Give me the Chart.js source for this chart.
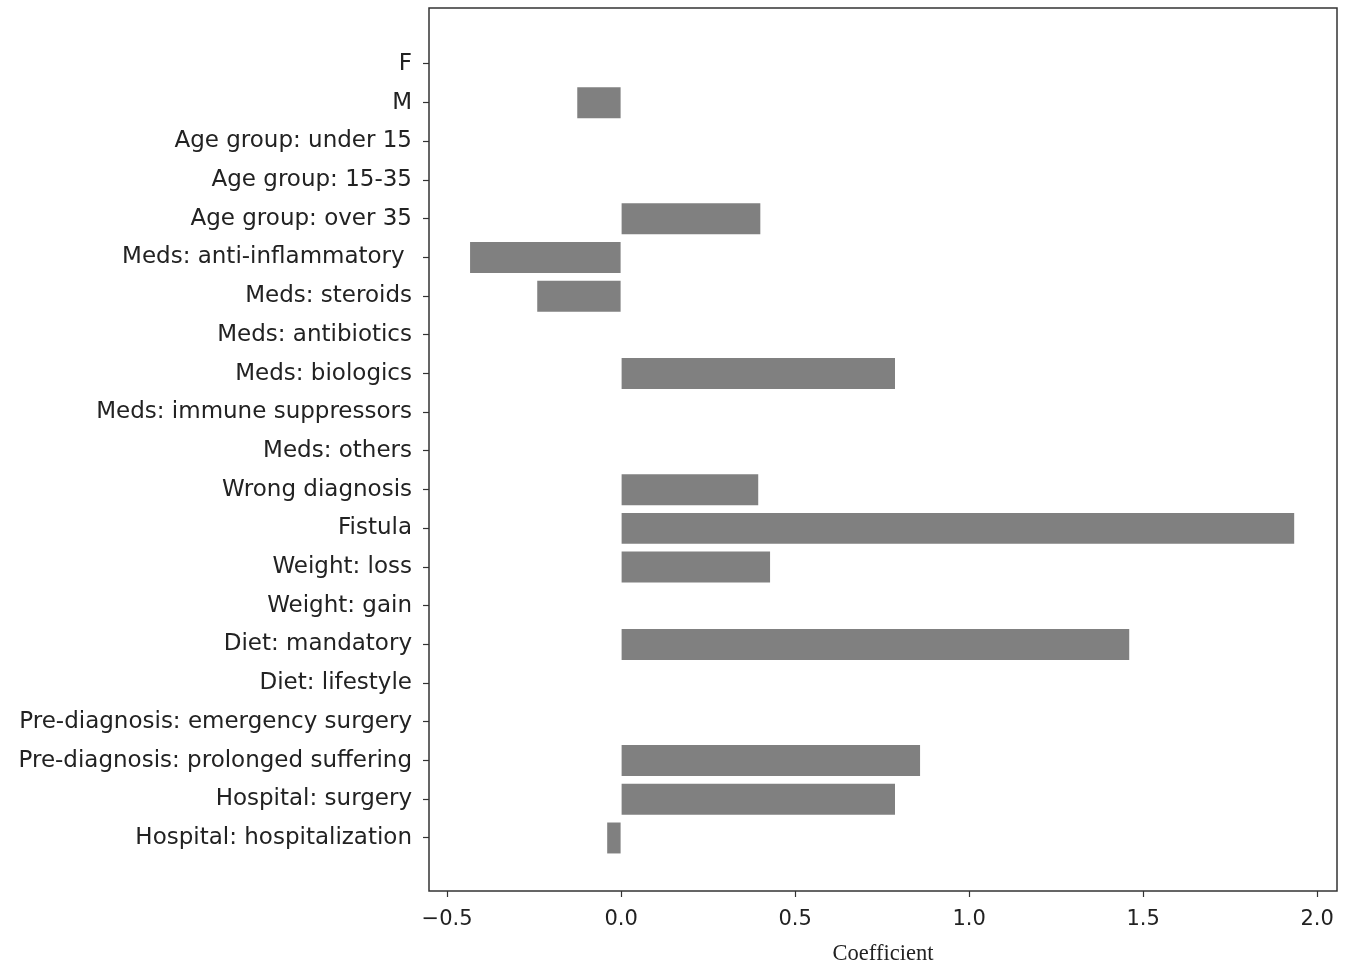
<!DOCTYPE html>
<html>
<head>
<meta charset="utf-8">
<script src="https://cdn.jsdelivr.net/npm/chart.js@4"></script>
<style>
  html, body { margin: 0; padding: 0; background: #fff; }
  #wrap { width: 1358px; height: 963px; }
</style>
</head>
<body>
<div id="wrap"><canvas id="myChart" width="1358" height="963"></canvas></div>
<script>
const labels = [
    'F', 'M', 'Age group: under 15', 'Age group: 15-35', 'Age group: over 35',
    'Meds: anti-inflammatory ', 'Meds: steroids', 'Meds: antibiotics', 'Meds: biologics',
    'Meds: immune suppressors', 'Meds: others', 'Wrong diagnosis', 'Fistula',
    'Weight: loss', 'Weight: gain', 'Diet: mandatory', 'Diet: lifestyle',
    'Pre-diagnosis: emergency surgery', 'Pre-diagnosis: prolonged suffering',
    'Hospital: surgery', 'Hospital: hospitalization'
];
const coefficients = [
    0, -0.126, 0, 0, 0.40,
    -0.434, -0.241, 0, 0.787,
    0, 0, 0.394, 1.934,
    0.428, 0, 1.460, 0,
    0, 0.859,
    0.787, -0.040
];
const xTicks = [-0.5, 0.0, 0.5, 1.0, 1.5, 2.0];

Chart.defaults.font.family = 'DejaVu Sans';
Chart.defaults.color = '#222';

// matplotlib-style box round the plot
const frame = {
    id: 'frame',
    afterDraw(chart) {
        const a = chart.chartArea, c = chart.ctx;
        c.save();
        c.strokeStyle = '#333';
        c.lineWidth = 1.5;
        c.strokeRect(a.left, a.top, a.right - a.left, a.bottom - a.top);
        c.restore();
    }
};

const ctx = document.getElementById('myChart');
new Chart(ctx, {
    type: 'bar',
    data: {
        datasets: [{
            data: coefficients.map((v, i) => ({ x: v, y: i })),
            backgroundColor: '#808080',
            borderWidth: 0,
            categoryPercentage: 0.8,
            barPercentage: 1.0
        }]
    },
    options: {
        indexAxis: 'y',
        responsive: false,
        animation: false,
        layout: { padding: { top: 8, right: 21, left: 0, bottom: 0 } },
        plugins: { legend: { display: false }, tooltip: { enabled: false } },
        scales: {
            x: {
                type: 'linear',
                offset: false,
                min: -0.552,
                max: 2.057,
                afterBuildTicks: s => { s.ticks = xTicks.map(v => ({ value: v })); },
                afterFit: s => { s.height = 72; s.paddingLeft = 0; s.paddingRight = 0; },
                ticks: {
                    font: { size: 21 },
                    padding: 10,
                    maxRotation: 0,
                    callback: v => (v < 0 ? '\u2212' : '') + Math.abs(v).toFixed(1)
                },
                grid: { offset: false, drawOnChartArea: false, tickLength: 6, tickColor: '#333', tickWidth: 1.2 },
                border: { display: false },
                title: {
                    display: true,
                    text: 'Coefficient',
                    font: { family: 'Liberation Serif', size: 22.5 },
                    padding: { top: 0, bottom: -5 }
                }
            },
            y: {
                type: 'linear',
                offset: false,
                reverse: true,
                min: -1.447,
                max: 21.37,
                afterBuildTicks: s => { s.ticks = labels.map((_, i) => ({ value: i })); },
                afterFit: s => { s.width = 429; s.paddingTop = 0; s.paddingBottom = 0; },
                ticks: {
                    font: { size: 23 },
                    padding: 11,
                    autoSkip: false,
                    callback: v => labels[v]
                },
                grid: { offset: false, drawOnChartArea: false, tickLength: 6, tickColor: '#333', tickWidth: 1.2 },
                border: { display: false }
            }
        }
    },
    plugins: [frame]
});
</script>
</body>
</html>
